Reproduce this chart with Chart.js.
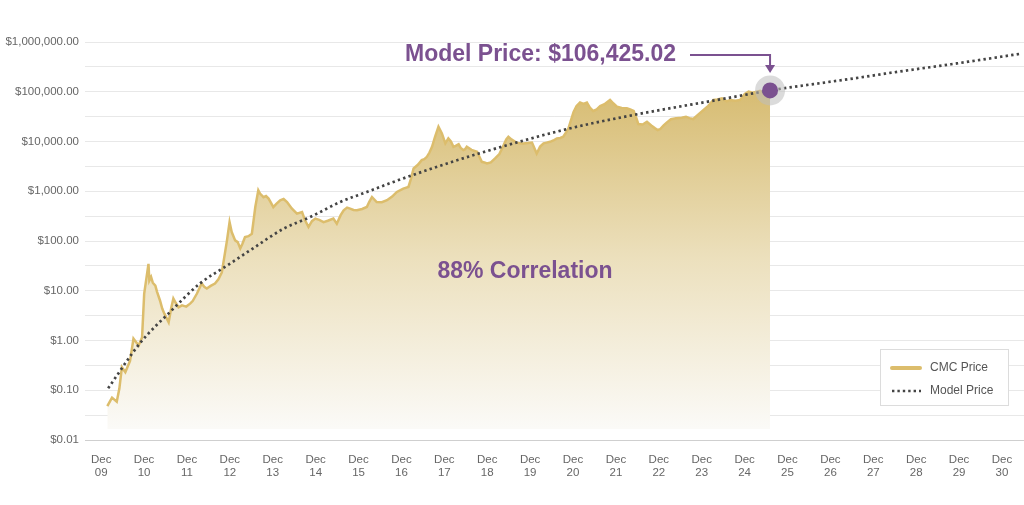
<!DOCTYPE html>
<html>
<head>
<meta charset="utf-8">
<script src="https://cdn.jsdelivr.net/npm/chart.js@4.4.1/dist/chart.umd.min.js"></script>
<style>
  html, body { margin: 0; padding: 0; background: #fff; }
  #wrap { width: 1024px; height: 505px; position: relative; }
</style>
</head>
<body>
<div id="wrap"><canvas id="chart"></canvas></div>
<script>
// price history (decimal years)
const priceDates = [
  2010.06, 2010.17, 2010.28, 2010.34, 2010.40, 2010.48, 2010.59, 2010.67, 2010.79, 2010.87,
  2010.92, 2011.02, 2011.04, 2011.08, 2011.12, 2011.18, 2011.22, 2011.29, 2011.34, 2011.39,
  2011.49, 2011.55, 2011.60, 2011.66, 2011.72, 2011.80, 2011.90, 2011.99, 2012.05, 2012.15,
  2012.26, 2012.32, 2012.38, 2012.47, 2012.57, 2012.65, 2012.73, 2012.85, 2012.91, 2012.96,
  2013.04, 2013.10, 2013.16, 2013.21, 2013.27, 2013.35, 2013.43, 2013.47, 2013.51, 2013.58,
  2013.62, 2013.66, 2013.70, 2013.76, 2013.82, 2013.87, 2013.93, 2014.00, 2014.09, 2014.17,
  2014.25, 2014.36, 2014.48, 2014.60, 2014.67, 2014.75, 2014.83, 2014.91, 2015.00, 2015.10,
  2015.20, 2015.33, 2015.41, 2015.50, 2015.57, 2015.65, 2015.72, 2015.80, 2015.88, 2016.00,
  2016.11, 2016.17, 2016.23, 2016.34, 2016.46, 2016.58, 2016.70, 2016.81, 2016.96, 2017.08,
  2017.14, 2017.20, 2017.30, 2017.39, 2017.45, 2017.51, 2017.57, 2017.63, 2017.70, 2017.78,
  2017.86, 2017.94, 2018.01, 2018.07, 2018.13, 2018.18, 2018.25, 2018.30, 2018.36, 2018.40,
  2018.44, 2018.55, 2018.68, 2018.79, 2018.85, 2018.91, 2019.00, 2019.10, 2019.20, 2019.30,
  2019.36, 2019.41, 2019.48, 2019.57, 2019.66, 2019.76, 2019.86, 2019.96, 2020.07, 2020.15,
  2020.23, 2020.30, 2020.38, 2020.46, 2020.54, 2020.62, 2020.69, 2020.75, 2020.81, 2020.87,
  2020.93, 2021.00, 2021.08, 2021.16, 2021.24, 2021.31, 2021.39, 2021.47, 2021.55, 2021.65,
  2021.78, 2021.86, 2021.94, 2022.05, 2022.17, 2022.25, 2022.33, 2022.39, 2022.44, 2022.54,
  2022.64, 2022.74, 2022.83, 2022.89, 2022.95, 2023.03, 2023.10, 2023.20, 2023.32, 2023.45,
  2023.55, 2023.63, 2023.72, 2023.84, 2023.96, 2024.07, 2024.19, 2024.28, 2024.39, 2024.50,
  2024.58, 2024.70, 2024.81, 2024.92, 2025.01, 2025.10, 2025.20, 2025.28, 2025.36, 2025.44,
  2025.51
];
const priceValues = [
  0.048, 0.071, 0.059, 0.107, 0.29, 0.23, 0.39, 1.09, 0.79, 1.15,
  8.8, 34.8, 16.1, 19, 14.5, 12.7, 9.5, 6.3, 4.4, 3.47,
  2.32, 4.5, 6.97, 5.6, 4.65, 5.1, 4.8, 5.5, 6.2, 8.8,
  14, 12, 11.1, 12.5, 14, 17, 23.3, 103, 240, 151,
  103, 95, 71, 88, 120, 125, 140, 260, 482, 1047,
  900, 830, 760, 800, 713, 600, 482, 560, 659, 700,
  608, 450, 355, 383, 260, 191, 250, 282, 265, 240,
  255, 282, 223, 330, 414, 470, 448, 420, 414, 440,
  482, 620, 767, 608, 600, 659, 780, 968, 1133, 1222,
  1800, 2870, 3400, 4217, 4400, 4920, 6000, 7820, 12450, 19770,
  14550, 9160, 11560, 10000, 7820, 8200, 8800, 7400, 6710, 7000,
  7820, 6800, 6200, 3900, 3800, 3610, 3800, 4560, 5600, 8450,
  11000, 12450, 11000, 9860, 9200, 9160, 9300, 9500, 5750, 7900,
  9160, 9500, 9860, 10500, 11560, 11800, 12450, 15000, 18370, 27000,
  39200, 52000, 60800, 57000, 60800, 48000, 41000, 44000, 51800, 56000,
  68400, 58000, 50100, 47000, 46400, 44000, 41000, 30000, 22400, 22000,
  24900, 21000, 18370, 17000, 17800, 21000, 24000, 28000, 29200, 30000,
  31500, 29500, 28300, 35000, 43000, 52000, 68400, 70000, 74000, 64000,
  68400, 66000, 68400, 90000, 100500, 96000, 100500, 104000, 93300, 90000,
  86100
];

// model curve
const modelDates = [
  2010.08, 2010.83, 2011.53, 2012.22, 2012.85, 2013.39, 2014.17, 2014.79, 2015.49, 2016.11,
  2016.73, 2017.51, 2018.75, 2020.78, 2022.32, 2024.28, 2025.51, 2027.38, 2028.54, 2029.71, 2031.34
];
const modelValues = [
  0.11, 0.90, 3.8, 14, 32, 65, 177, 303, 608, 968,
  1540, 2650, 5840, 17800, 34000, 68400, 106425.02, 181000, 256000, 355000, 578000
];

const modelPriceDate = 2025.51;
const modelPriceValue = 106425.02;

// x ticks: one per December
const xTickYears = [2009, 2010, 2011, 2012, 2013, 2014, 2015, 2016, 2017, 2018, 2019,
  2020, 2021, 2022, 2023, 2024, 2025, 2026, 2027, 2028, 2029, 2030];
const xTickLabels = ['09', '10', '11', '12', '13', '14', '15', '16', '17', '18', '19',
  '20', '21', '22', '23', '24', '25', '26', '27', '28', '29', '30'];

const yTickValues = [0.01, 0.1, 1, 10, 100, 1000, 10000, 100000, 1000000];
const yTickLabels = ['$0.01', '$0.10', '$1.00', '$10.00', '$100.00', '$1,000.00',
  '$10,000.00', '$100,000.00', '$1,000,000.00'];

const PURPLE = '#7b5190';
const GOLD = '#dcbd6c';

// major ticks plus a half-decade gridline between each
const yTicks = [];
yTickValues.forEach((v, i) => {
  yTicks.push({ value: v, text: yTickLabels[i] });
  if (i < yTickValues.length - 1) yTicks.push({ value: v * Math.sqrt(10), text: '' });
});

const toPoints = (xs, ys) => xs.map((x, i) => ({ x: x, y: ys[i] }));

const overlay = {
  id: 'overlay',
  afterDraw(chart) {
    const { ctx, scales } = chart;
    const px = scales.x.getPixelForValue(modelPriceDate);
    const py = scales.y.getPixelForValue(modelPriceValue);
    ctx.save();

    // marker
    ctx.fillStyle = 'rgba(190,190,190,0.55)';
    ctx.beginPath(); ctx.arc(px, py, 15, 0, Math.PI * 2); ctx.fill();
    ctx.fillStyle = PURPLE;
    ctx.beginPath(); ctx.arc(px, py, 8, 0, Math.PI * 2); ctx.fill();

    // label + arrow
    ctx.font = 'bold 23px "Liberation Sans", Arial, sans-serif';
    ctx.fillStyle = PURPLE;
    ctx.textBaseline = 'middle';
    ctx.textAlign = 'left';
    ctx.fillText('Model Price: $106,425.02', 405, 55);

    ctx.strokeStyle = PURPLE;
    ctx.lineWidth = 2;
    ctx.beginPath();
    ctx.moveTo(690, 55); ctx.lineTo(px, 55); ctx.lineTo(px, 66);
    ctx.stroke();
    ctx.beginPath();
    ctx.moveTo(px - 5, 65); ctx.lineTo(px + 5, 65); ctx.lineTo(px, 73);
    ctx.closePath(); ctx.fill();

    ctx.textAlign = 'center';
    ctx.fillText('88% Correlation', 525, 272);

    // legend box
    const lx = 880, ly = 349, lw = 128, lh = 56;
    ctx.fillStyle = '#fff';
    ctx.fillRect(lx, ly, lw, lh);
    ctx.strokeStyle = '#dcdcdc';
    ctx.lineWidth = 1;
    ctx.strokeRect(lx + 0.5, ly + 0.5, lw, lh);

    ctx.lineCap = 'round';
    ctx.strokeStyle = GOLD;
    ctx.lineWidth = 4;
    ctx.beginPath(); ctx.moveTo(892, 368); ctx.lineTo(920, 368); ctx.stroke();

    ctx.lineCap = 'butt';
    ctx.strokeStyle = '#444';
    ctx.lineWidth = 2.6;
    ctx.setLineDash([2.4, 3]);
    ctx.beginPath(); ctx.moveTo(892, 391); ctx.lineTo(921, 391); ctx.stroke();
    ctx.setLineDash([]);

    ctx.font = '12px "Liberation Sans", Arial, sans-serif';
    ctx.fillStyle = '#555';
    ctx.textAlign = 'left';
    ctx.fillText('CMC Price', 930, 368);
    ctx.fillText('Model Price', 930, 391);
    ctx.restore();
  }
};

Chart.defaults.font.family = '"Liberation Sans", Arial, sans-serif';
Chart.defaults.font.size = 11.5;
Chart.defaults.color = '#666';

new Chart(document.getElementById('chart'), {
  type: 'line',
  data: {
    datasets: [
      {
        label: 'CMC Price',
        data: toPoints(priceDates, priceValues),
        borderColor: GOLD,
        borderWidth: 2.5,
        pointRadius: 0,
        tension: 0,
        fill: { value: 0.0166 },
        backgroundColor(context) {
          const area = context.chart.chartArea;
          if (!area) return 'rgba(0,0,0,0)';
          const g = context.chart.ctx.createLinearGradient(0, 90, 0, 428);
          g.addColorStop(0, '#d7bc72');
          g.addColorStop(0.5, '#ece0bd');
          g.addColorStop(1, '#fbfaf7');
          return g;
        },
        order: 2
      },
      {
        label: 'Model Price',
        data: toPoints(modelDates, modelValues),
        borderColor: '#444',
        borderWidth: 2.7,
        borderDash: [2.4, 3.2],
        pointRadius: 0,
        cubicInterpolationMode: 'monotone',
        fill: false,
        order: 1
      }
    ]
  },
  options: {
    responsive: true,
    maintainAspectRatio: false,
    animation: false,
    layout: { padding: { top: 42, right: 0, bottom: 0, left: 0 } },
    plugins: {
      legend: { display: false },
      tooltip: { enabled: false }
    },
    scales: {
      x: {
        type: 'linear',
        min: 2009.54,
        max: 2031.43,
        afterBuildTicks(scale) {
          scale.ticks = xTickYears.map(y => ({ value: y + 11 / 12 }));
        },
        afterFit(scale) { scale.height = 65; },
        grid: { display: false },
        border: { color: '#cfcfcf' },
        ticks: {
          autoSkip: false,
          maxRotation: 0,
          padding: 5,
          color: '#666',
          font: { size: 11.5, lineHeight: 1.15 },
          callback(value, index) { return ['Dec', xTickLabels[index]]; }
        }
      },
      y: {
        type: 'logarithmic',
        min: 0.01,
        max: 1000000,
        z: 1,
        afterBuildTicks(scale) {
          scale.ticks = yTicks.map(t => ({ value: t.value }));
        },
        afterFit(scale) { scale.width = 85; },
        grid: { color: 'rgba(0,0,0,0.09)', drawTicks: false },
        border: { display: false },
        ticks: {
          autoSkip: false,
          padding: 6,
          color: '#666',
          callback(value, index) { return yTicks[index].text; }
        }
      }
    }
  },
  plugins: [overlay]
});
</script>
</body>
</html>
